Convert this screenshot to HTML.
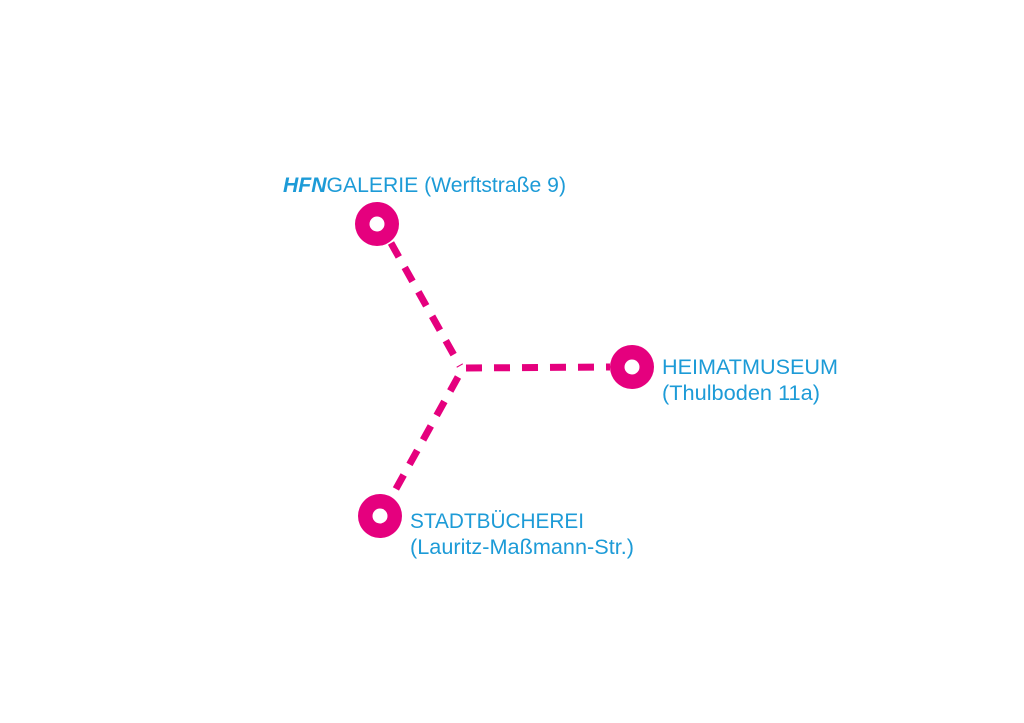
<!DOCTYPE html>
<html><head><meta charset="utf-8"><style>
html,body{margin:0;padding:0;background:#fff;}
svg{display:block;}
text{font-family:"Liberation Sans",sans-serif;font-size:21px;fill:#1d9bd7;}
</style></head><body>
<svg width="1024" height="723" viewBox="0 0 1024 723">
<g stroke="#e5007e" stroke-width="7" fill="none" stroke-dasharray="16 12">
<line x1="391" y1="243" x2="460" y2="366"/>
<line x1="466" y1="368" x2="610" y2="367"/>
<line x1="458" y1="377" x2="392" y2="496"/>
</g>
<g fill="#e5007e">
<circle cx="377" cy="224" r="22"/>
<circle cx="632" cy="367" r="22"/>
<circle cx="380" cy="516" r="22"/>
</g>
<g fill="#fff">
<circle cx="377" cy="224" r="7.5"/>
<circle cx="632" cy="367" r="7.5"/>
<circle cx="380" cy="516" r="7.5"/>
</g>
<text x="283" y="192" textLength="283" lengthAdjust="spacingAndGlyphs"><tspan font-weight="bold" font-style="italic">HFN</tspan>GALERIE (Werftstraße 9)</text>
<text x="662" y="374" textLength="176" lengthAdjust="spacingAndGlyphs">HEIMATMUSEUM</text>
<text x="662" y="400" textLength="158" lengthAdjust="spacingAndGlyphs">(Thulboden 11a)</text>
<text x="410" y="528" textLength="174" lengthAdjust="spacingAndGlyphs">STADTBÜCHEREI</text>
<text x="410" y="554" textLength="224" lengthAdjust="spacingAndGlyphs">(Lauritz-Maßmann-Str.)</text>
</svg>
</body></html>
